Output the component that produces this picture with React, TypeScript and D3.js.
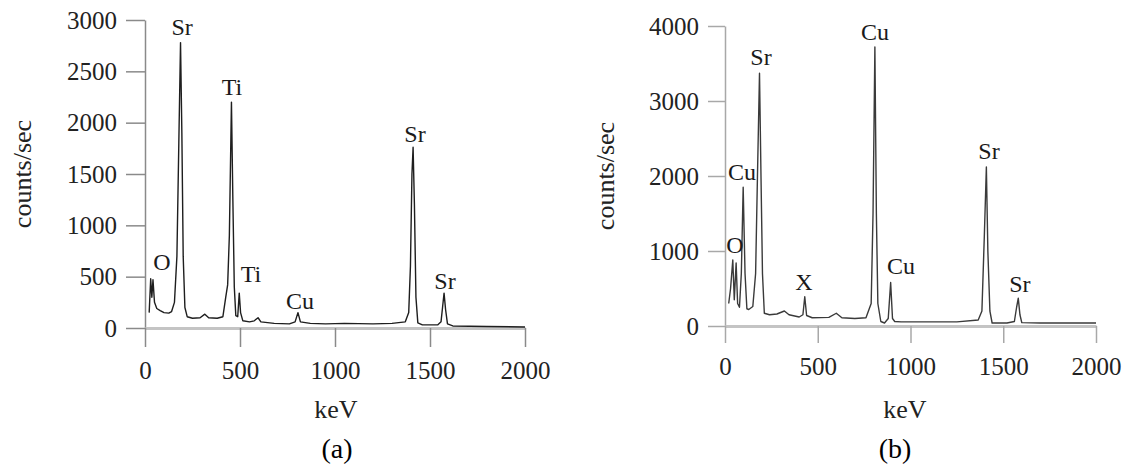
import { useEffect, useRef } from 'react';
import * as d3 from 'd3';

// spectre (a) : [keV, counts/sec]
const spectrumA = [
  [22, 150], [30, 480], [36, 300], [42, 470], [50, 250], [62, 190], [80, 170], [100, 150],
  [125, 145], [140, 160], [155, 250], [168, 700], [178, 1800], [187, 2780], [194, 1900],
  [201, 700], [210, 200], [222, 110], [250, 95], [290, 100], [315, 135], [335, 100],
  [380, 95], [410, 110], [425, 300], [435, 420], [444, 900], [455, 2200], [462, 1300],
  [470, 400], [478, 120], [488, 110], [496, 340], [503, 150], [515, 70], [550, 60],
  [575, 70], [595, 100], [610, 60], [680, 45], [760, 40], [790, 60], [805, 150], [818, 60],
  [870, 45], [950, 40], [1050, 45], [1200, 40], [1300, 45], [1370, 60], [1388, 150],
  [1397, 600], [1405, 1500], [1411, 1760], [1418, 1200], [1426, 300], [1436, 50],
  [1460, 30], [1540, 30], [1558, 60], [1566, 200], [1574, 340], [1582, 180], [1592, 40],
  [1620, 20], [1800, 15], [2000, 10]
];

// spectre (b)
const spectrumB = [
  [20, 300], [30, 500], [42, 880], [50, 350], [60, 840], [68, 300], [78, 250], [88, 700],
  [98, 1850], [108, 700], [118, 230], [128, 220], [150, 260], [165, 700], [175, 2000],
  [186, 3370], [194, 2000], [202, 700], [212, 170], [240, 150], [280, 160], [320, 200],
  [345, 150], [400, 120], [420, 150], [430, 390], [440, 140], [470, 110], [560, 115],
  [600, 170], [630, 110], [700, 100], [760, 110], [788, 300], [798, 1500], [808, 3720],
  [816, 1500], [824, 300], [840, 60], [860, 40], [880, 100], [893, 580], [903, 100],
  [915, 60], [950, 55], [1100, 55], [1250, 55], [1365, 80], [1385, 200], [1398, 1200],
  [1409, 2120], [1417, 1000], [1428, 200], [1440, 40], [1520, 40], [1560, 60],
  [1572, 250], [1581, 370], [1590, 150], [1600, 45], [1700, 40], [2000, 40]
];

// étiquettes des pics : [texte, keV, counts]
const peaksA = [
  ['Sr', 195, 2850], ['Ti', 458, 2270], ['O', 89, 565], ['Ti', 558, 448],
  ['Cu', 816, 185], ['Sr', 1421, 1811], ['Sr', 1579, 380]
];
const peaksB = [
  ['Sr', 194, 3480], ['Cu', 809, 3813], ['Cu', 92, 1947], ['O', 54, 973],
  ['X', 426, 480], ['Cu', 949, 693], ['Sr', 1423, 2227], ['Sr', 1590, 453]
];

const kevTicks = [0, 500, 1000, 1500, 2000];
const countTicksA = [0, 500, 1000, 1500, 2000, 2500, 3000];
const countTicksB = [0, 1000, 2000, 3000, 4000];

const font = '"Liberation Serif", "Times New Roman", serif';

export default function App() {
  const svgRef = useRef(null);

  useEffect(() => {
    const svg = d3.select(svgRef.current);
    svg.selectAll('*').remove();

    const panels = [
      {
        data: spectrumA, peaks: peaksA, yTicks: countTicksA, yMax: 3000,
        x0: 145, x1: 525, yTop: 20, yBottom: 328, tick: 19,
        axisColor: '#8a8a8a', lineColor: '#1e1e1e', caption: '(a)',
        yLabelX: 22, keVX: 336, captionX: 337
      },
      {
        data: spectrumB, peaks: peaksB, yTicks: countTicksB, yMax: 4000,
        x0: 725, x1: 1096, yTop: 26, yBottom: 326, tick: 17,
        axisColor: '#a8a8a8', lineColor: '#3a3a3a', caption: '(b)',
        yLabelX: 605, keVX: 905, captionX: 895
      }
    ];

    panels.forEach(p => {
      const x = d3.scaleLinear().domain([0, 2000]).range([p.x0, p.x1]);
      const y = d3.scaleLinear().domain([0, p.yMax]).range([p.yBottom, p.yTop]);
      const g = svg.append('g');

      // axes
      const yAxis = g.append('g')
        .attr('transform', `translate(${p.x0},0)`)
        .call(d3.axisLeft(y).tickValues(p.yTicks).tickFormat(d3.format('d'))
          .tickSize(p.tick).tickSizeOuter(0).tickPadding(9));
      const xAxis = g.append('g')
        .attr('transform', `translate(0,${p.yBottom})`)
        .call(d3.axisBottom(x).tickValues(kevTicks).tickFormat(d3.format('d'))
          .tickSize(p.tick).tickSizeOuter(0).tickPadding(14));

      [yAxis, xAxis].forEach(a => {
        a.select('.domain').attr('stroke', p.axisColor).attr('stroke-width', 1.5);
        a.selectAll('.tick line').attr('stroke', p.axisColor).attr('stroke-width', 1.5);
        a.selectAll('.tick text')
          .attr('fill', '#222')
          .style('font-family', font)
          .style('font-size', '25px');
      });
      xAxis.select('.domain').attr('stroke', '#c4c4c4').attr('stroke-width', 3);

      // spectre
      const line = d3.line()
        .x(d => x(d[0]))
        .y(d => y(d[1]));

      g.append('path')
        .datum(p.data)
        .attr('fill', 'none')
        .attr('stroke', p.lineColor)
        .attr('stroke-width', 1.4)
        .attr('stroke-linejoin', 'round')
        .attr('d', line);

      // noms des pics
      g.selectAll('.peak')
        .data(p.peaks)
        .join('text')
        .attr('x', d => x(d[1]))
        .attr('y', d => y(d[2]))
        .attr('text-anchor', 'middle')
        .attr('fill', '#1a1a1a')
        .style('font-family', font)
        .style('font-size', '24px')
        .text(d => d[0]);

      // titres
      g.append('text')
        .attr('transform', `translate(${p.yLabelX},${(p.yTop + p.yBottom) / 2}) rotate(-90)`)
        .attr('text-anchor', 'middle')
        .attr('dy', '0.35em')
        .attr('fill', '#222')
        .style('font-family', font)
        .style('font-size', '26px')
        .text('counts/sec');

      g.append('text')
        .attr('x', p.keVX)
        .attr('y', 418)
        .attr('text-anchor', 'middle')
        .attr('fill', '#222')
        .style('font-family', font)
        .style('font-size', '26px')
        .text('keV');

      g.append('text')
        .attr('x', p.captionX)
        .attr('y', 458)
        .attr('text-anchor', 'middle')
        .attr('fill', '#000')
        .style('font-family', font)
        .style('font-size', '28px')
        .text(p.caption);
    });
  }, []);

  return (
    <svg ref={svgRef} width={1125} height={469}
      style={{ position: 'absolute', left: 0, top: 0, background: '#fff' }}></svg>
  );
}
